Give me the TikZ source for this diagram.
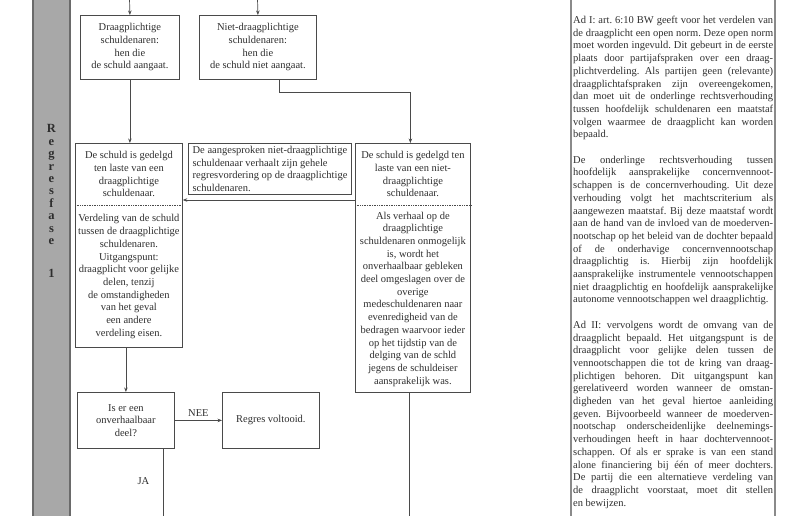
\documentclass[tikz,border=0pt]{standalone}
\usepackage{fontspec}
\setmainfont{Liberation Serif}
\usetikzlibrary{arrows.meta,positioning}
\definecolor{ink}{HTML}{2E2E2E}
\definecolor{edge}{HTML}{4A4A4A}
\definecolor{bargrey}{HTML}{A8A8A8}
\definecolor{bardark}{HTML}{6A6A6A}
\definecolor{noteline}{HTML}{8A8A8A}
\frenchspacing

\tikzset{
  frame/.style={draw=edge, line width=0.8pt, inner sep=2pt, align=center, text=ink, anchor=north west},
  part/.style={inner sep=2pt, align=center, text=ink},
  flow/.style={draw=edge, line width=0.7pt},
}

\begin{document}
\begin{tikzpicture}[x=1pt, y=-1pt, >={Stealth[length=4.5pt, width=3.5pt]}, font=\fontsize{10.5}{12.7}\selectfont]
  \useasboundingbox (0,0) rectangle (800,516);
  % phase bar
  \fill[bargrey] (33,-5) rectangle (70,521);
  \draw[bardark, line width=1.2pt] (33,-5) -- (33,521) (70,-5) -- (70,521);
  \node[inner sep=0pt, anchor=north, align=center, text=ink, font=\fontsize{12.5}{12.4}\selectfont\bfseries] (phase) at (51.5,124.5)
    {R\\e\\g\\r\\e\\s\\f\\a\\s\\e\\[21pt]1};

  \coordinate (feed1) at (129.5,-2);
  \coordinate (feed2) at (257.5,-2);
  \node[frame, minimum width=99pt, minimum height=64pt] (box1) at (80,15)
    {Draagplichtige\\schuldenaren:\\hen die\\de schuld aangaat.};
  \node[frame, minimum width=117pt, minimum height=64pt] (box2) at (199,15)
    {Niet-draagplichtige\\schuldenaren:\\hen die\\de schuld niet aangaat.};

  \node[frame, minimum width=107pt, minimum height=204pt] (leftbox) at (75,143) {};
  \node[part, anchor=north, minimum height=62pt] (lefttop) at (leftbox.north)
    {De schuld is gedelgd\\ten laste van een\\draagplichtige\\schuldenaar.};
  \node[part, below=0pt of lefttop, minimum height=142pt] (leftbot)
    {Verdeling van de schuld\\tussen de draagplichtige\\schuldenaren.\\Uitgangspunt:\\draagplicht voor gelijke\\delen, tenzij\\de omstandigheden\\van het geval\\een andere\\verdeling eisen.};

  \node[frame, align=left, line width=1.1pt, minimum width=163pt, minimum height=51pt] (claim) at (188,143)
    {De aangesproken niet-draagplichtige\\schuldenaar verhaalt zijn gehele\\regresvordering op de draagplichtige\\schuldenaren.};

  \node[frame, minimum width=115pt, minimum height=249pt] (rightbox) at (355,143) {};
  \node[part, anchor=north, minimum height=62pt] (righttop) at (rightbox.north)
    {De schuld is gedelgd ten\\laste van een niet-\\draagplichtige\\schuldenaar.};
  \node[part, below=0pt of righttop, minimum height=187pt] (rightbot)
    {Als verhaal op de\\draagplichtige\\schuldenaren onmogelijk\\is, wordt het\\onverhaalbaar gebleken\\deel omgeslagen over de\\overige\\medeschuldenaren naar\\evenredigheid van de\\bedragen waarvoor ieder\\op het tijdstip van de\\delging van de schld\\jegens de schuldeiser\\aansprakelijk was.};

  \node[frame, minimum width=97pt, minimum height=56pt] (isbox) at (77,392)
    {Is er een\\onverhaalbaar\\deel?};
  \node[frame, minimum width=97pt, minimum height=56pt] (done) at (222,392)
    {Regres voltooid.};
  \coordinate (jaend) at (163,521);
  \coordinate (tailend) at (409,521);

  \draw[flow, densely dotted, line width=0.6pt] (lefttop.south -| leftbox.west) -- (lefttop.south -| leftbox.east);
  \draw[flow, densely dotted, line width=0.6pt] (righttop.south -| rightbox.west) -- (righttop.south -| rightbox.east);

  \draw[flow, ->] (feed1) -- (box1.north);
  \draw[flow, ->] (feed2) -- (box2.north);
  \draw[flow, ->] (box1.south) -- (box1.south |- leftbox.north);
  \draw[flow, ->] ([xshift=21.5pt]box2.south) -- ++(0,13) -| ([xshift=-2.5pt]rightbox.north);
  \draw[flow, ->] (rightbox.west |- 0,200) -- (leftbox.east |- 0,200);
  \draw[flow, ->] (isbox.north |- leftbox.south) -- (isbox.north);
  \draw[flow, ->] (isbox) -- node[above, inner sep=4pt, text=ink] (nee) {NEE} (done);
  \draw[flow] (isbox.south -| jaend) -- node[left=10pt, pos=0.45, text=ink] (ja) {JA} (jaend);
  \draw[flow] (rightbox.south -| tailend) -- (tailend);

  % explanation column
  \draw[noteline, line width=1.2pt] (571,-5) rectangle (775,521);
  \node[text width=200pt, align=justify, inner sep=0pt, anchor=north west, text=ink] (note) at (573,16)
    {\noindent Ad I: art. 6:10 BW geeft voor het verdelen van\linebreak
    de draagplicht een open norm. Deze open norm\linebreak
    moet worden ingevuld. Dit gebeurt in de eerste\linebreak
    plaats door partijafspraken over een draag-\linebreak
    plichtverdeling. Als partijen geen (relevante)\linebreak
    draagplichtafspraken zijn overeengekomen,\linebreak
    dan moet uit de onderlinge rechtsverhouding\linebreak
    tussen hoofdelijk schuldenaren een maatstaf\linebreak
    volgen waarmee de draagplicht kan worden\linebreak
    bepaald.\par\vspace{12.7pt}
    \noindent De onderlinge rechtsverhouding tussen\linebreak
    hoofdelijk aansprakelijke concernvennoot-\linebreak
    schappen is de concernverhouding. Uit deze\linebreak
    verhouding volgt het machtscriterium als\linebreak
    aangewezen maatstaf. Bij deze maatstaf wordt\linebreak
    aan de hand van de invloed van de moederven-\linebreak
    nootschap op het beleid van de dochter bepaald\linebreak
    of de onderhavige concernvennootschap\linebreak
    draagplichtig is. Hierbij zijn hoofdelijk\linebreak
    aansprakelijke instrumentele vennootschappen\linebreak
    niet draagplichtig en hoofdelijk aansprakelijke\linebreak
    autonome vennootschappen wel draagplichtig.\par\vspace{12.7pt}
    \noindent Ad II: vervolgens wordt de omvang van de\linebreak
    draagplicht bepaald. Het uitgangspunt is de\linebreak
    draagplicht voor gelijke delen tussen de\linebreak
    vennootschappen die tot de kring van draag-\linebreak
    plichtigen behoren. Dit uitgangspunt kan\linebreak
    gerelativeerd worden wanneer de omstan-\linebreak
    digheden van het geval hiertoe aanleiding\linebreak
    geven. Bijvoorbeeld wanneer de moederven-\linebreak
    nootschap onderscheidenlijke deelnemings-\linebreak
    verhoudingen heeft in haar dochtervennoot-\linebreak
    schappen. Of als er sprake is van een stand\linebreak
    alone financiering bij één of meer dochters.\linebreak
    De partij die een alternatieve verdeling van\linebreak
    de draagplicht voorstaat, moet dit stellen\linebreak
    en bewijzen.};
\end{tikzpicture}
\end{document}
